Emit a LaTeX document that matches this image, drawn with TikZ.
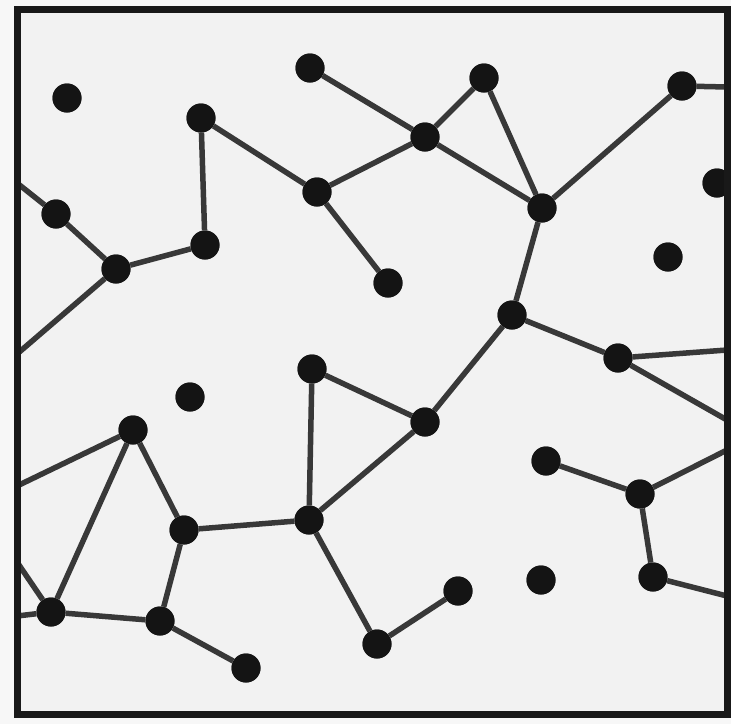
\documentclass[tikz,border=0pt]{standalone}
\begin{document}
\begin{tikzpicture}[x=1pt,y=-1pt,
  dot/.style={circle,fill=black!92,inner sep=0pt,minimum size=29pt},
  link/.style={draw=black!78,line width=5.5pt},
  frame/.style={draw=black!90,line width=7pt}]
\useasboundingbox (0,0) rectangle (731,724);
\fill[black!3] (0,0) rectangle (731,724);
\fill[black!5] (17,9) rectangle (727,714);
\begin{scope}
\clip (17,9) rectangle (727,714);
% nodes
\node[dot] (n1) at (67,98) {};
\node[dot] (n2) at (310,68) {};
\node[dot] (n3) at (484,78) {};
\node[dot] (n4) at (682,86) {};
\node[dot] (n5) at (201,118) {};
\node[dot] (n6) at (425,137) {};
\node[dot] (n7) at (317,192) {};
\node[dot] (n8) at (717,183) {};
\node[dot] (n9) at (56,214) {};
\node[dot] (n10) at (542,208) {};
\node[dot] (n11) at (205,245) {};
\node[dot] (n12) at (116,269) {};
\node[dot] (n13) at (668,257) {};
\node[dot] (n14) at (388,283) {};
\node[dot] (n15) at (512,315) {};
\node[dot] (n16) at (618,358) {};
\node[dot] (n17) at (312,369) {};
\node[dot] (n18) at (190,397) {};
\node[dot] (n19) at (425,422) {};
\node[dot] (n20) at (133,430) {};
\node[dot] (n21) at (546,461) {};
\node[dot] (n22) at (640,494) {};
\node[dot] (n23) at (184,530) {};
\node[dot] (n24) at (309,520) {};
\node[dot] (n25) at (458,591) {};
\node[dot] (n26) at (541,580) {};
\node[dot] (n27) at (653,577) {};
\node[dot] (n28) at (51,612) {};
\node[dot] (n29) at (160,621) {};
\node[dot] (n30) at (377,644) {};
\node[dot] (n31) at (246,668) {};
% free ends on the frame
\coordinate (e4) at (727,87);
\coordinate (e9) at (17,183);
\coordinate (e12) at (17,354);
\coordinate (e16a) at (727,350);
\coordinate (e16b) at (727,420);
\coordinate (e20) at (17,486);
\coordinate (e22) at (727,450);
\coordinate (e27) at (727,596);
\coordinate (e28a) at (17,562);
\coordinate (e28b) at (17,616);
\path[link] (n2) -- (n6) (n6) -- (n3) (n3) -- (n10) (n6) -- (n10)
  (n4) -- (n10) (n4) -- (e4)
  (n5) -- (n7) (n7) -- (n6) (n7) -- (n14) (n5) -- (n11)
  (n11) -- (n12) (n9) -- (n12) (n9) -- (e9) (n12) -- (e12)
  (n10) -- (n15) (n15) -- (n19) (n15) -- (n16)
  (n16) -- (e16a) (n16) -- (e16b)
  (n17) -- (n19) (n17) -- (n24) (n19) -- (n24) (n24) -- (n23)
  (n20) -- (n23) (n20) -- (n28) (n20) -- (e20)
  (n23) -- (n29) (n28) -- (n29) (n29) -- (n31)
  (n28) -- (e28a) (n28) -- (e28b)
  (n24) -- (n30) (n30) -- (n25)
  (n21) -- (n22) (n22) -- (e22) (n22) -- (n27) (n27) -- (e27);
% dots on top of links
\foreach \n in {1,...,31} {\fill[black!92] (n\n) circle (14.5pt);}
\end{scope}
\draw[frame] (17,9) rectangle (727,714);
\end{tikzpicture}
\end{document}
